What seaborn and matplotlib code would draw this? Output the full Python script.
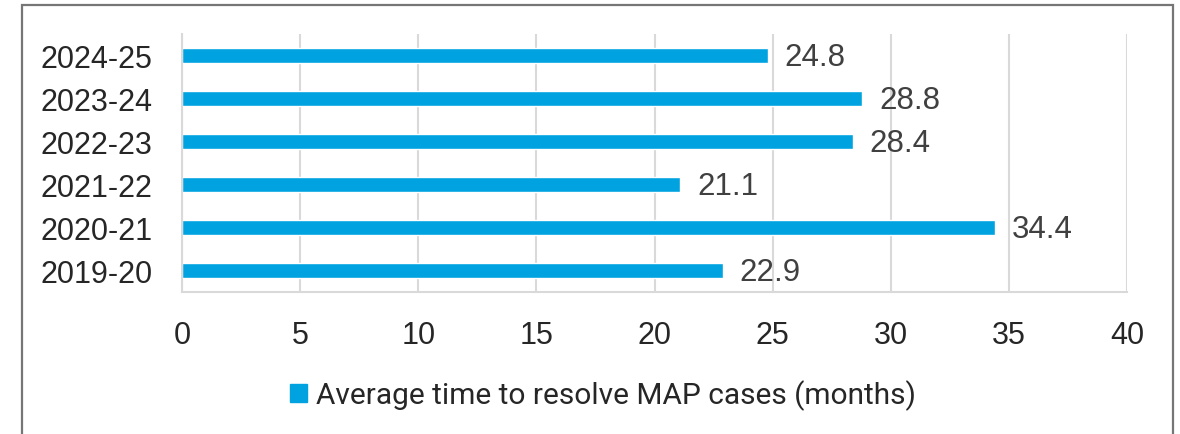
import seaborn as sns
import matplotlib.pyplot as plt
import pandas as pd
from matplotlib.patches import Rectangle

years = ['2024-25', '2023-24', '2022-23', '2021-22', '2020-21', '2019-20']
months = [24.8, 28.8, 28.4, 21.1, 34.4, 22.9]
series_name = 'Average time to resolve MAP cases (months)'

df = pd.DataFrame({'year': years, 'months': months})

sns.set_style("white")
plt.rcParams['font.family'] = ['Liberation Sans', 'DejaVu Sans']

blue = '#00A3E0'
grid = '#d9d9d9'

fig = plt.figure(figsize=(11.8, 4.35), dpi=100)
ax = fig.add_axes([182 / 1180, 1 - 293 / 435, (1127 - 182) / 1180, (293 - 35) / 435])

sns.barplot(data=df, x='months', y='year', order=years, orient='h',
            color=blue, width=0.35, saturation=1, ax=ax, label=series_name)

ax.set_xlim(0, 40)
ax.set_xticks(range(0, 41, 5))
ax.set_ylim(5.5, -0.5)
ax.grid(axis='x', color=grid, linewidth=1.5)
ax.set_axisbelow(True)
for side in ['top', 'right']:
    ax.spines[side].set_visible(False)
ax.spines['left'].set_color(grid)
ax.spines['bottom'].set_color(grid)
ax.spines['left'].set_linewidth(1.5)
ax.spines['bottom'].set_linewidth(1.5)
ax.tick_params(axis='x', length=0, pad=20, labelsize=22)
ax.tick_params(axis='y', length=0, pad=21, labelsize=22)
ax.set_xlabel('')
ax.set_ylabel('')
if ax.get_legend():
    ax.get_legend().remove()

# value labels
for i, v in enumerate(months):
    ax.annotate(f'{v:.1f}', (v, i), xytext=(12, -1), textcoords='offset points',
                va='center', ha='left', fontsize=22.5, color='#404040')

# legend below the plot
handle = Rectangle((0, 0), 1, 1, color=blue)
fig.legend([handle], [series_name], loc='center', bbox_to_anchor=(603 / 1180, 1 - 396 / 435),
           frameon=False, handlelength=0.55, handleheight=0.55, handletextpad=0.3,
           prop={'family': 'Roboto', 'size': 21.5})

# outer chart border
fig.patches.append(Rectangle((22 / 1180, -0.1), (1173 - 22) / 1180, 1.1 - 6 / 435,
                             transform=fig.transFigure, fill=False, edgecolor='#767676',
                             linewidth=1.6))

fig.savefig('out.png', dpi=100)
